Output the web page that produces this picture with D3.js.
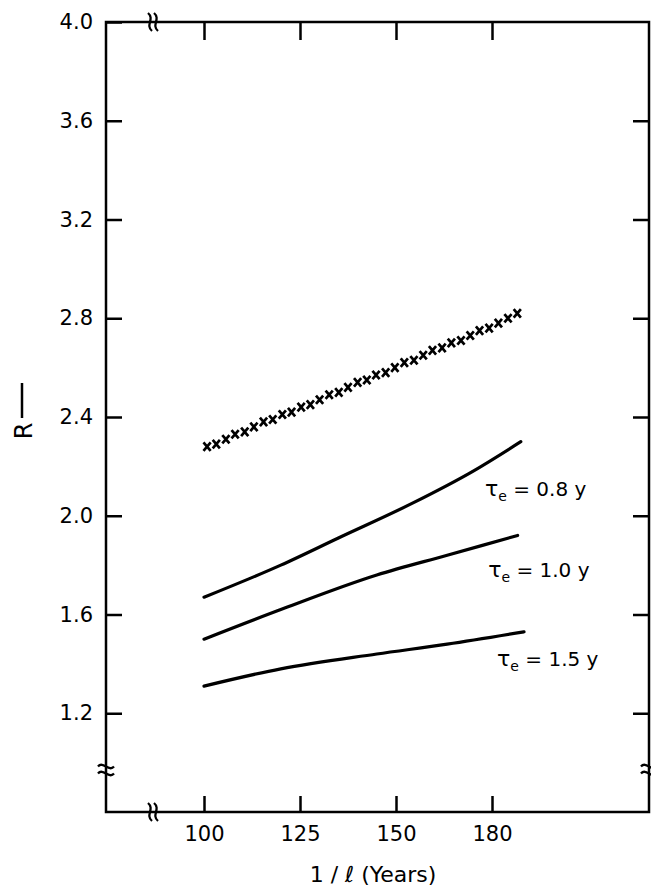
<!DOCTYPE html>
<html>
<head>
<meta charset="utf-8">
<script src="https://cdn.jsdelivr.net/npm/d3@7.9.0/dist/d3.min.js"></script>
<style>
  body { margin: 0; background: #fff; }
  svg { display: block; font-family: 'DejaVu Sans', sans-serif; }
</style>
</head>
<body>
<div id="chart"></div>
<script>
// tick values as printed on the figure (the x ticks are evenly spaced)
const yTicks = [1.2, 1.6, 2.0, 2.4, 2.8, 3.2, 3.6, 4.0];
const xTicks = [100, 125, 150, 180];

// the row of x marks
const crossX = [100.8, 103.2, 105.7, 108.1, 110.6, 113.0, 115.5, 117.9, 120.4, 122.8,
  125.3, 127.7, 130.1, 132.6, 135.1, 137.5, 140.0, 142.4, 144.8, 147.3,
  149.7, 152.6, 155.6, 158.5, 161.4, 164.4, 167.3, 170.3, 173.2, 176.1,
  179.1, 182.0, 185.0, 187.9];
const crossY = [2.28, 2.29, 2.31, 2.33, 2.34, 2.36, 2.38, 2.39, 2.41, 2.42,
  2.44, 2.45, 2.47, 2.49, 2.50, 2.52, 2.54, 2.55, 2.57, 2.58,
  2.60, 2.62, 2.63, 2.65, 2.67, 2.68, 2.70, 2.71, 2.73, 2.75,
  2.76, 2.78, 2.80, 2.82];

// solid curves, one per tau_e
const tauLabels = ['0.8', '1.0', '1.5'];
const curveX = [
  [100, 120, 135, 155, 174, 189],
  [100, 120, 145, 166, 188],
  [100, 120, 145, 166, 190],
];
const curveY = [
  [1.67, 1.80, 1.91, 2.05, 2.18, 2.30],
  [1.50, 1.62, 1.76, 1.84, 1.92],
  [1.31, 1.38, 1.44, 1.48, 1.53],
];
// where each tau_e label starts (data units)
const labelX = [177.8, 178.8, 181.6];
const labelY = [2.08, 1.75, 1.39];

const width = 651;
const height = 888;
const frame = { left: 106, right: 649, top: 22, bottom: 812 };

const svg = d3
  .select('#chart')
  .append('svg')
  .attr('width', width)
  .attr('height', height);

// evenly spaced ticks, labelled 100 125 150 180
const step = 96;
const xScale = d3
  .scaleLinear()
  .domain(xTicks)
  .range(xTicks.map((d, i) => 204 + i * step));

const yScale = d3.scaleLinear().domain([0.8, 4.0]).range([frame.bottom, frame.top]);

function styleAxis(g) {
  g.select('.domain').remove();
  g.selectAll('.tick line').attr('stroke', '#000').attr('stroke-width', 2.5);
  g.selectAll('.tick text').attr('fill', '#000').attr('font-family', "'DejaVu Sans', sans-serif");
}

// frame
svg
  .append('rect')
  .attr('x', frame.left)
  .attr('y', frame.top)
  .attr('width', frame.right - frame.left)
  .attr('height', frame.bottom - frame.top)
  .attr('fill', 'none')
  .attr('stroke', '#000')
  .attr('stroke-width', 2.5);

svg
  .append('g')
  .attr('transform', `translate(${frame.left},0)`)
  .call(d3.axisLeft(yScale).tickValues(yTicks).tickSize(-16).tickPadding(13).tickFormat(d3.format('.1f')))
  .call(styleAxis)
  .call((g) => g.selectAll('.tick text').attr('font-size', 21));

svg
  .append('g')
  .attr('transform', `translate(${frame.right},0)`)
  .call(d3.axisRight(yScale).tickValues(yTicks.slice(0, -1)).tickSize(-16).tickFormat(''))
  .call(styleAxis);

svg
  .append('g')
  .attr('transform', `translate(0,${frame.top})`)
  .call(d3.axisTop(xScale).tickValues(xTicks).tickSize(-18).tickFormat(''))
  .call(styleAxis);

svg
  .append('g')
  .attr('transform', `translate(0,${frame.bottom})`)
  .call(d3.axisBottom(xScale).tickValues(xTicks).tickSize(-16).tickPadding(14).tickFormat(d3.format('d')))
  .call(styleAxis)
  .call((g) => g.selectAll('.tick text').attr('font-size', 21));

// axis break marks
function hBreak(x, y) {
  // two wavy strokes across a horizontal axis
  [-3, 3].forEach((o) => {
    svg
      .append('path')
      .attr('d', `M${x + o - 2},${y - 9} C${x + o + 5},${y - 3} ${x + o - 5},${y + 3} ${x + o + 2},${y + 9}`)
      .attr('fill', 'none')
      .attr('stroke', '#000')
      .attr('stroke-width', 2.3);
  });
}
function vBreak(x, y) {
  // two tildes across a vertical axis
  [-3.5, 3.5].forEach((o) => {
    svg
      .append('path')
      .attr('d', `M${x - 8},${y + o} C${x - 3},${y + o - 6} ${x + 3},${y + o + 6} ${x + 8},${y + o}`)
      .attr('fill', 'none')
      .attr('stroke', '#000')
      .attr('stroke-width', 2.3);
  });
}
hBreak(153, frame.top);
hBreak(153, frame.bottom);
vBreak(frame.left, 770);
vBreak(frame.right, 770);

// row of x marks
const crosses = crossX.map((x, i) => ({ x, y: crossY[i] }));
svg
  .append('g')
  .selectAll('path')
  .data(crosses)
  .join('path')
  .attr('transform', (d) => `translate(${xScale(d.x)},${yScale(d.y)})`)
  .attr('d', 'M-3.6,-4.2L3.6,4.2M3.6,-4.2L-3.6,4.2')
  .attr('stroke', '#000')
  .attr('stroke-width', 2.7);

// curves
const line = d3
  .line()
  .x((d) => xScale(d[0]))
  .y((d) => yScale(d[1]))
  .curve(d3.curveMonotoneX);

curveX.forEach((xs, k) => {
  svg
    .append('path')
    .attr('d', line(xs.map((x, i) => [x, curveY[k][i]])))
    .attr('fill', 'none')
    .attr('stroke', '#000')
    .attr('stroke-width', 3.2)
    .attr('stroke-linecap', 'round');
});

tauLabels.forEach((lab, k) => {
  const t = svg
    .append('text')
    .attr('x', xScale(labelX[k]))
    .attr('y', yScale(labelY[k]))
    .attr('font-size', 20);
  t.append('tspan').attr('font-size', 22).text('τ');
  t.append('tspan').attr('font-size', 14).attr('dy', 5).text('e');
  t.append('tspan').attr('dy', -5).text(` = ${lab} y`);
});

// axis titles
svg
  .append('text')
  .attr('x', 373)
  .attr('y', 882)
  .attr('text-anchor', 'middle')
  .attr('font-size', 22)
  .text('1 / ℓ  (Years)');

svg
  .append('text')
  .attr('transform', 'translate(32,431) rotate(-90)')
  .attr('text-anchor', 'middle')
  .attr('font-size', 24)
  .text('R');

svg
  .append('line')
  .attr('x1', 22)
  .attr('x2', 22)
  .attr('y1', 383)
  .attr('y2', 418)
  .attr('stroke', '#000')
  .attr('stroke-width', 2.5);
</script>
</body>
</html>
